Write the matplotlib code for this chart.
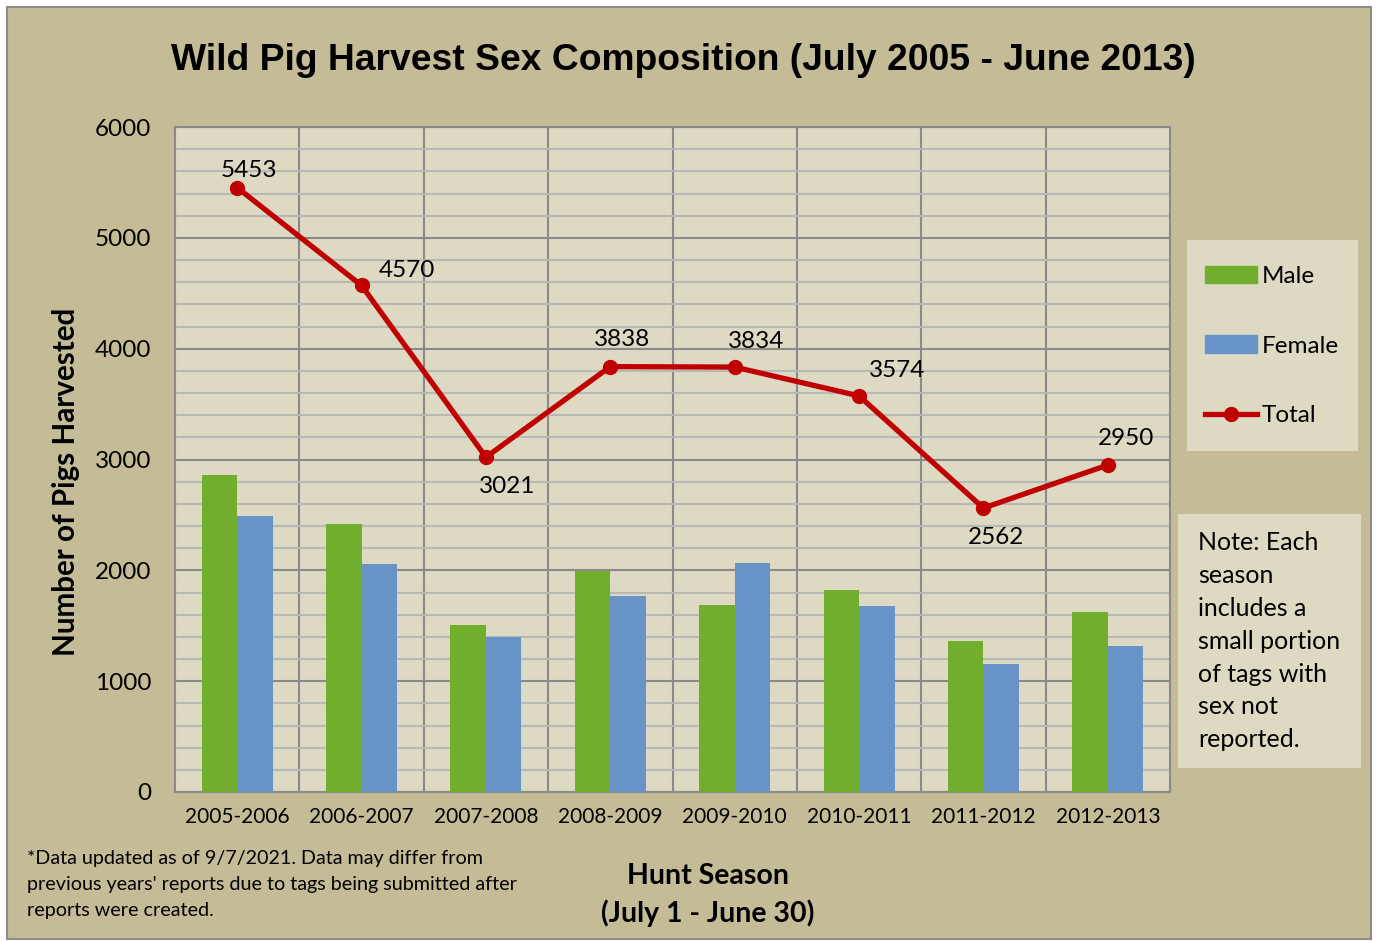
import matplotlib.pyplot as plt
import numpy as np
from matplotlib.patches import Rectangle
from matplotlib.lines import Line2D
from matplotlib.patches import Patch

# data
seasons = ["2005-2006", "2006-2007", "2007-2008", "2008-2009",
           "2009-2010", "2010-2011", "2011-2012", "2012-2013"]
male = [2860, 2418, 1507, 1994, 1687, 1823, 1362, 1624]
female = [2490, 2057, 1398, 1768, 2066, 1678, 1155, 1317]
total = [5453, 4570, 3021, 3838, 3834, 3574, 2562, 2950]

# label offsets in pixels (dx, dy) for each total label
label_offsets = [(12, 17), (45, 15), (21, -29), (12, 27),
                 (21, 26), (38, 25), (13, -29), (18, 27)]

tan = "#C4BC96"
panel = "#DDD9C3"
green = "#71AE2E"
blue = "#6893C6"
red = "#C00000"

body_font = ["Lato", "DejaVu Sans"]
fs = 17.5

fig = plt.figure(figsize=(13.77, 9.41), dpi=100)
fig.patch.set_facecolor("white")
fig.patches.append(Rectangle((7 / 1377, 2 / 941), 1364 / 1377, 932 / 941,
                             transform=fig.transFigure, facecolor=tan,
                             edgecolor="#8C8C8C", linewidth=1.5, zorder=-5))

ax = fig.add_axes([175 / 1377, 1 - 792 / 941, 995 / 1377, 665 / 941])
ax.set_facecolor(panel)

x = np.arange(len(seasons))
w = 0.285
ax.bar(x - w / 2, male, w, color=green, zorder=3, label="Male")
ax.bar(x + w / 2, female, w, color=blue, zorder=3, label="Female")
ax.plot(x, total, color=red, lw=3.8, marker="o", ms=10, zorder=4, label="Total")

for xi, val, (dx, dy) in zip(x, total, label_offsets):
    ax.annotate(str(val), (xi, val), xytext=(dx, dy), textcoords="offset pixels",
                ha="center", va="center", fontsize=fs, family=body_font, zorder=5)

ax.set_xlim(-0.5, len(seasons) - 0.5)
ax.set_ylim(0, 6000)
ax.set_yticks(np.arange(0, 6001, 1000))
ax.set_yticks(np.arange(0, 6001, 200), minor=True)
ax.set_xticks(x)
ax.set_xticklabels(seasons)
ax.set_xticks(np.arange(0.5, len(seasons) - 0.5, 1), minor=True)
ax.tick_params(axis="both", which="both", length=0)
ax.tick_params(axis="x", pad=11)
ax.tick_params(axis="y", pad=17)
for lab in ax.get_xticklabels():
    lab.set_fontsize(15)
    lab.set_family(body_font)
for lab in ax.get_yticklabels():
    lab.set_fontsize(fs)
    lab.set_family(body_font)

ax.grid(axis="y", which="minor", color="#B8B8B4", lw=1.5, zorder=1)
ax.grid(axis="y", which="major", color="#8A8A8A", lw=1.5, zorder=1)
ax.grid(axis="x", which="minor", color="#8A8A8A", lw=1.5, zorder=1)
ax.grid(axis="x", which="major", visible=False)
for s in ax.spines.values():
    s.set_color("#8A8A8A")
    s.set_linewidth(1.5)

ax.set_ylabel("Number of Pigs Harvested", fontsize=21.3, fontweight="bold",
              family=body_font, va="center")
ax.yaxis.set_label_coords((66 - 175) / 995, (792 - 482) / 665)

fig.text(683 / 1377, 1 - 61 / 941,
         "Wild Pig Harvest Sex Composition (July 2005 - June 2013)",
         ha="center", va="center", fontsize=26.8, fontweight="bold",
         family="Liberation Sans")

fig.text(708 / 1377, 1 - 895 / 941, "Hunt Season\n(July 1 - June 30)",
         ha="center", va="center", fontsize=20.5, fontweight="bold",
         family=body_font, linespacing=1.48)

fig.text(27 / 1377, 1 - 850 / 941,
         "*Data updated as of 9/7/2021. Data may differ from\n"
         "previous years' reports due to tags being submitted after\n"
         "reports were created.",
         ha="left", va="top", fontsize=14.2, family=body_font, linespacing=1.66)

# legend box
fig.patches.append(Rectangle((1187 / 1377, 1 - 451 / 941), 171 / 1377, 211 / 941,
                             transform=fig.transFigure, facecolor=panel,
                             edgecolor="none", zorder=1))
handles = [Patch(color=green, label="Male"), Patch(color=blue, label="Female"),
           Line2D([], [], color=red, lw=3.8, marker="o", ms=10, label="Total")]
leg = fig.legend(handles=handles, loc="center left",
                 bbox_to_anchor=(1205 / 1377, 1 - 346 / 941),
                 frameon=False, borderpad=0, borderaxespad=0, labelspacing=2.0,
                 handlelength=2.14, handleheight=0.7, handletextpad=0.2,
                 prop={"family": body_font, "size": fs})

# note box
fig.patches.append(Rectangle((1178 / 1377, 1 - 768 / 941), 183 / 1377, 254 / 941,
                             transform=fig.transFigure, facecolor=panel,
                             edgecolor="none", zorder=1))
fig.text(1198 / 1377, 1 - 531 / 941,
         "Note: Each\nseason\nincludes a\nsmall portion\nof tags with\nsex not\nreported.",
         ha="left", va="top", fontsize=18, family=body_font, linespacing=1.52)

fig.savefig("out.png", dpi=100, facecolor=fig.get_facecolor())
